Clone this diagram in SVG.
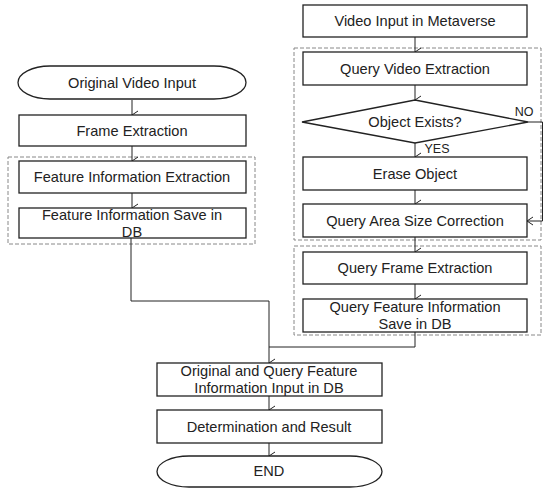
<svg xmlns="http://www.w3.org/2000/svg" width="543" height="488" viewBox="0 0 543 488">
<defs>
<marker id="ah" markerWidth="10" markerHeight="10" refX="5" refY="8" orient="auto" markerUnits="userSpaceOnUse">
<polyline points="1,2 5,8 9,2" fill="none" stroke="#222" stroke-width="1"/>
</marker>
<marker id="ahl" markerWidth="10" markerHeight="10" refX="8" refY="5" orient="auto-start-reverse" markerUnits="userSpaceOnUse">
<polyline points="2,1 8,5 2,9" fill="none" stroke="#222" stroke-width="1"/>
</marker>
</defs>
<style>
.box{fill:#fff;stroke:#222;stroke-width:1.3}
.grp{fill:none;stroke:#888;stroke-width:1;stroke-dasharray:4 2}
.t{font-family:"Liberation Sans",Arial,sans-serif;font-size:14.6px;fill:#222;text-anchor:middle;dominant-baseline:central}
.s{font-family:"Liberation Sans",Arial,sans-serif;font-size:12.5px;fill:#222;text-anchor:middle;dominant-baseline:central}
.c{fill:none;stroke:#222;stroke-width:1}
</style>
<rect width="543" height="488" fill="#fff"/>

<g id="groups">
<rect class="grp" x="8" y="157" width="247" height="87"/>
<rect class="grp" x="294" y="48" width="247" height="192"/>
<rect class="grp" x="294" y="246" width="247" height="89"/>
</g>

<g id="connectors">
<line class="c" x1="132" y1="100" x2="132" y2="115" marker-end="url(#ah)"/>
<line class="c" x1="132" y1="146" x2="132" y2="161" marker-end="url(#ah)"/>
<line class="c" x1="132" y1="193" x2="132" y2="208" marker-end="url(#ah)"/>
<line class="c" x1="415" y1="37" x2="415" y2="52" marker-end="url(#ah)"/>
<line class="c" x1="415" y1="85" x2="415" y2="100" marker-end="url(#ah)"/>
<line class="c" x1="415" y1="143" x2="415" y2="157" marker-end="url(#ah)"/>
<line class="c" x1="415" y1="190" x2="415" y2="204" marker-end="url(#ah)"/>
<line class="c" x1="415" y1="237" x2="415" y2="252" marker-end="url(#ah)"/>
<line class="c" x1="415" y1="284" x2="415" y2="299" marker-end="url(#ah)"/>
<polyline class="c" points="131,238 131,301 269,301 269,363" marker-end="url(#ah)"/>
<polyline class="c" points="415,332 415,347 269,347"/>
<line class="c" x1="269" y1="396" x2="269" y2="410" marker-end="url(#ah)"/>
<line class="c" x1="269" y1="443" x2="269" y2="456" marker-end="url(#ah)"/>
<polyline class="c" points="528,122 542.5,122 542.5,221 527,221" marker-end="url(#ahl)"/>
<text class="s" x="524" y="112">NO</text>
<text class="s" x="437" y="149">YES</text>
</g>

<g id="n1">
<path class="box" d="M50,66 H214 A32 16.5 0 0 1 214,99 H50 A32 16.5 0 0 1 50,66 Z"/>
<text class="t" x="132" y="83">Original Video Input</text>
</g>
<g id="n2">
<rect class="box" x="19" y="115" width="227" height="31"/>
<text class="t" x="132" y="131">Frame Extraction</text>
</g>
<g id="n3">
<rect class="box" x="19" y="161" width="227" height="32"/>
<text class="t" x="132" y="177">Feature Information Extraction</text>
</g>
<g id="n4">
<rect class="box" x="19" y="208" width="227" height="30"/>
<text class="t" x="132" y="215">Feature Information Save in</text>
<text class="t" x="132" y="232">DB</text>
</g>

<g id="r1">
<rect class="box" x="303" y="5" width="224" height="32"/>
<text class="t" x="415" y="21">Video Input in Metaverse</text>
</g>
<g id="r2">
<rect class="box" x="303" y="52" width="224" height="33"/>
<text class="t" x="415" y="69">Query Video Extraction</text>
</g>
<g id="r3">
<polygon class="box" points="415,100 528,122 415,143 302,122"/>
<text class="t" x="415" y="122">Object Exists?</text>
</g>
<g id="r4">
<rect class="box" x="303" y="157" width="224" height="33"/>
<text class="t" x="415" y="174">Erase Object</text>
</g>
<g id="r5">
<rect class="box" x="303" y="204" width="224" height="33"/>
<text class="t" x="415" y="221">Query Area Size Correction</text>
</g>
<g id="r6">
<rect class="box" x="303" y="252" width="224" height="32"/>
<text class="t" x="415" y="268">Query Frame Extraction</text>
</g>
<g id="r7">
<rect class="box" x="303" y="299" width="224" height="33"/>
<text class="t" x="415" y="307">Query Feature Information</text>
<text class="t" x="415" y="324">Save in DB</text>
</g>

<g id="b1">
<rect class="box" x="157" y="363" width="225" height="33"/>
<text class="t" x="269" y="371">Original and Query Feature</text>
<text class="t" x="269" y="388">Information Input in DB</text>
</g>
<g id="b2">
<rect class="box" x="157" y="410" width="225" height="33"/>
<text class="t" x="269" y="427">Determination and Result</text>
</g>
<g id="b3">
<path class="box" d="M189,456 H350 A32 15.5 0 0 1 350,487 H189 A32 15.5 0 0 1 189,456 Z"/>
<text class="t" x="269" y="471">END</text>
</g>
</svg>
